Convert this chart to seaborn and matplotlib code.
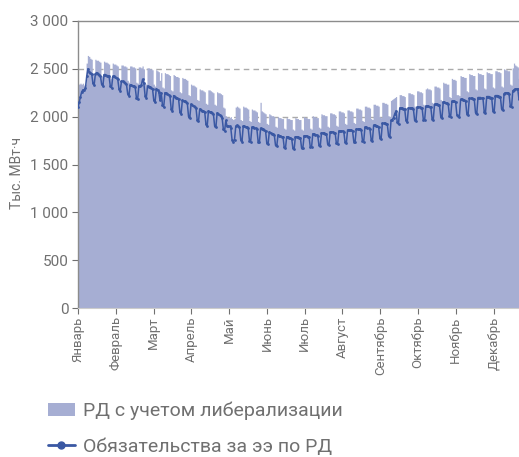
import numpy as np
import pandas as pd
import seaborn as sns
import matplotlib.pyplot as plt
from matplotlib.ticker import FuncFormatter
from matplotlib.patches import Patch
from matplotlib.lines import Line2D

months = ['Январь', 'Февраль', 'Март', 'Апрель', 'Май', 'Июнь', 'Июль',
          'Август', 'Сентябрь', 'Октябрь', 'Ноябрь', 'Декабрь']

# daily values, one row per week (thousand MWh)
rd_liberal = [
    2350, 2340, 2350, 2340, 2350, 2330, 2340,
    2560, 2640, 2630, 2610, 2600, 2450, 2430,
    2600, 2590, 2590, 2580, 2570, 2430, 2420,
    2580, 2570, 2570, 2560, 2550, 2420, 2400,
    2560, 2550, 2550, 2540, 2530, 2400, 2380,
    2540, 2540, 2530, 2530, 2520, 2380, 2360,
    2530, 2530, 2520, 2520, 2510, 2360, 2350,
    2520, 2520, 2510, 2530, 2500, 2350, 2340,
    2510, 2510, 2500, 2500, 2490, 2340, 2320,
    2490, 2480, 2470, 2380, 2460, 2310, 2300,
    2460, 2450, 2450, 2440, 2430, 2280, 2270,
    2440, 2430, 2420, 2420, 2410, 2260, 2250,
    2410, 2400, 2400, 2390, 2380, 2230, 2220,
    2340, 2330, 2330, 2320, 2310, 2180, 2170,
    2290, 2280, 2280, 2270, 2260, 2140, 2130,
    2280, 2280, 2270, 2260, 2250, 2130, 2120,
    2260, 2250, 2250, 2240, 2230, 2100, 2090,
    2010, 2000, 1990, 1990, 2000, 1980, 1970,
    1980, 2100, 2110, 2100, 2090, 1970, 1960,
    2110, 2100, 2100, 2090, 2080, 1960, 1950,
    2080, 2070, 2070, 2060, 2050, 1950, 1940,
    2150, 2060, 2050, 2040, 2030, 1930, 1920,
    2030, 2020, 2010, 2010, 2000, 1900, 1890,
    2000, 1990, 1990, 1980, 1980, 1880, 1870,
    1990, 1980, 1980, 1970, 1970, 1870, 1860,
    1990, 1980, 1980, 1970, 1970, 1870, 1860,
    2000, 1990, 1990, 1980, 1980, 1880, 1870,
    2010, 2000, 2000, 1990, 1990, 1890, 1880,
    2030, 2020, 2020, 2010, 2010, 1900, 1890,
    2040, 2040, 2030, 2030, 2020, 1910, 1900,
    2060, 2060, 2050, 2050, 2040, 1930, 1920,
    2070, 2070, 2060, 2060, 2050, 1940, 1930,
    2090, 2090, 2080, 2080, 2070, 1960, 1950,
    2110, 2110, 2100, 2100, 2090, 1980, 1970,
    2130, 2130, 2120, 2120, 2110, 2000, 1990,
    2150, 2150, 2140, 2140, 2130, 2010, 2000,
    2170, 2180, 2190, 2200, 2210, 2060, 2050,
    2230, 2230, 2220, 2220, 2210, 2090, 2080,
    2250, 2250, 2240, 2240, 2230, 2110, 2100,
    2270, 2270, 2260, 2260, 2250, 2130, 2120,
    2290, 2300, 2290, 2290, 2280, 2150, 2140,
    2320, 2320, 2310, 2310, 2300, 2180, 2170,
    2360, 2350, 2350, 2340, 2340, 2210, 2200,
    2400, 2390, 2390, 2380, 2230, 2230, 2220,
    2430, 2420, 2420, 2410, 2410, 2270, 2260,
    2450, 2440, 2440, 2430, 2430, 2290, 2280,
    2460, 2450, 2450, 2440, 2440, 2300, 2290,
    2470, 2460, 2460, 2450, 2450, 2310, 2300,
    2480, 2480, 2470, 2470, 2460, 2320, 2310,
    2500, 2490, 2490, 2480, 2480, 2340, 2330,
    2510, 2560, 2540, 2530, 2520, 2400, 2390,
]

obligations = [
    2100, 2150, 2210, 2260, 2280, 2280, 2300,
    2420, 2500, 2470, 2460, 2450, 2350, 2330,
    2450, 2460, 2450, 2440, 2430, 2340, 2320,
    2440, 2440, 2430, 2430, 2420, 2320, 2300,
    2420, 2420, 2410, 2400, 2390, 2290, 2270,
    2370, 2370, 2360, 2350, 2340, 2240, 2220,
    2330, 2330, 2320, 2320, 2310, 2200, 2180,
    2320, 2320, 2330, 2390, 2350, 2220, 2200,
    2320, 2310, 2310, 2300, 2290, 2170, 2150,
    2290, 2280, 2260, 2170, 2250, 2120, 2100,
    2250, 2250, 2240, 2230, 2220, 2080, 2060,
    2220, 2210, 2200, 2190, 2180, 2050, 2030,
    2170, 2160, 2160, 2150, 2140, 2000, 1990,
    2130, 2120, 2110, 2100, 2090, 1960, 1950,
    2080, 2070, 2060, 2060, 2050, 1920, 1900,
    2060, 2050, 2050, 2040, 2030, 1900, 1890,
    2040, 2030, 2020, 2010, 1990, 1870, 1850,
    1960, 1900, 1900, 1900, 1880, 1760, 1740,
    1760, 1900, 1910, 1900, 1890, 1760, 1740,
    1900, 1900, 1890, 1890, 1880, 1750, 1740,
    1890, 1890, 1880, 1880, 1870, 1740, 1730,
    1880, 1870, 1870, 1860, 1850, 1720, 1710,
    1840, 1830, 1820, 1820, 1810, 1700, 1690,
    1810, 1800, 1800, 1790, 1790, 1680, 1670,
    1790, 1790, 1780, 1780, 1770, 1670, 1660,
    1790, 1790, 1790, 1780, 1780, 1670, 1670,
    1800, 1800, 1800, 1790, 1790, 1680, 1680,
    1820, 1820, 1810, 1810, 1800, 1700, 1690,
    1830, 1830, 1830, 1820, 1820, 1710, 1700,
    1840, 1840, 1840, 1830, 1830, 1720, 1710,
    1850, 1850, 1850, 1850, 1840, 1730, 1720,
    1860, 1860, 1860, 1860, 1850, 1740, 1730,
    1870, 1870, 1870, 1870, 1860, 1750, 1740,
    1890, 1890, 1880, 1880, 1870, 1760, 1750,
    1910, 1910, 1900, 1900, 1890, 1780, 1770,
    1930, 1930, 1930, 1920, 1920, 1800, 1790,
    1960, 1970, 1990, 2030, 2060, 1940, 1920,
    2090, 2090, 2090, 2080, 2080, 1960, 1940,
    2090, 2090, 2090, 2090, 2080, 1960, 1950,
    2100, 2100, 2100, 2090, 2090, 1970, 1960,
    2110, 2110, 2110, 2100, 2100, 1980, 1970,
    2130, 2130, 2130, 2120, 2120, 2000, 1990,
    2150, 2150, 2140, 2140, 2130, 2010, 2000,
    2160, 2160, 2160, 2150, 2020, 2010, 2000,
    2180, 2180, 2170, 2170, 2160, 2030, 2020,
    2190, 2190, 2190, 2180, 2180, 2040, 2030,
    2200, 2200, 2200, 2190, 2190, 2050, 2040,
    2210, 2210, 2210, 2200, 2200, 2060, 2050,
    2220, 2220, 2220, 2210, 2210, 2080, 2070,
    2240, 2250, 2250, 2250, 2240, 2110, 2100,
    2270, 2280, 2290, 2290, 2290, 2180, 2170,
]

df = pd.DataFrame({'day': np.arange(len(rd_liberal)),
                   'rd': rd_liberal, 'obl': obligations})

area_color = '#a6aed3'
line_color = '#3a58a3'
text_color = '#707070'

sns.set_style('white')
plt.rcParams['font.family'] = ['Roboto', 'DejaVu Sans']

fig = plt.figure(figsize=(5.19, 4.57), dpi=100)
ax = fig.add_axes([78 / 519, 149 / 457, 441 / 519, 287 / 457])

ax.fill_between(df['day'], df['rd'], step='mid', color=area_color,
                linewidth=0, zorder=2)
sns.lineplot(data=df, x='day', y='obl', ax=ax, color=line_color,
             linewidth=1.1, marker='o', markersize=2.0, markeredgewidth=0,
             zorder=3)

for yv in [500, 1000, 1500, 2000, 2500]:
    ax.axhline(yv, color='#aaaaaa', linestyle=(0, (4, 3)), linewidth=1, zorder=1)

ax.set_xlim(0, 355)
ax.set_ylim(0, 3000)
ax.set_yticks(range(0, 3001, 500))
ax.yaxis.set_major_formatter(FuncFormatter(lambda v, p: f'{int(v):,}'.replace(',', ' ')))
ax.set_xticks([i * 365 / 12 for i in range(12)])
ax.set_xticklabels(months, rotation=90)

ax.set_xlabel('')
ax.set_ylabel('Тыс. МВт·ч', fontsize=10, color=text_color)
ax.yaxis.set_label_coords(-0.122, 0.47)
ax.tick_params(axis='y', labelsize=11, colors=text_color, length=4, width=0.8,
               direction='out', left=True, pad=3)
ax.tick_params(axis='x', labelsize=9.5, colors=text_color, length=4, width=0.8,
               direction='out', bottom=True, pad=2)

for s in ['left', 'top']:
    ax.spines[s].set_color('#8c8c8c')
    ax.spines[s].set_linewidth(1)
ax.spines['bottom'].set_color('#cccccc')
ax.spines['right'].set_visible(False)

handles = [Patch(facecolor=area_color, edgecolor='none'),
           Line2D([], [], color=line_color, linewidth=2, marker='o', markersize=5)]
labels = ['РД с учетом либерализации', 'Обязательства за ээ по РД']
leg = fig.legend(handles, labels, loc='upper left',
                 bbox_to_anchor=(40 / 519, 1 - 394 / 457), frameon=False,
                 fontsize=14, labelspacing=0.9, handlelength=1.4,
                 handletextpad=0.4, borderaxespad=0)
for t in leg.get_texts():
    t.set_color(text_color)

fig.savefig('out.png', dpi=100)
